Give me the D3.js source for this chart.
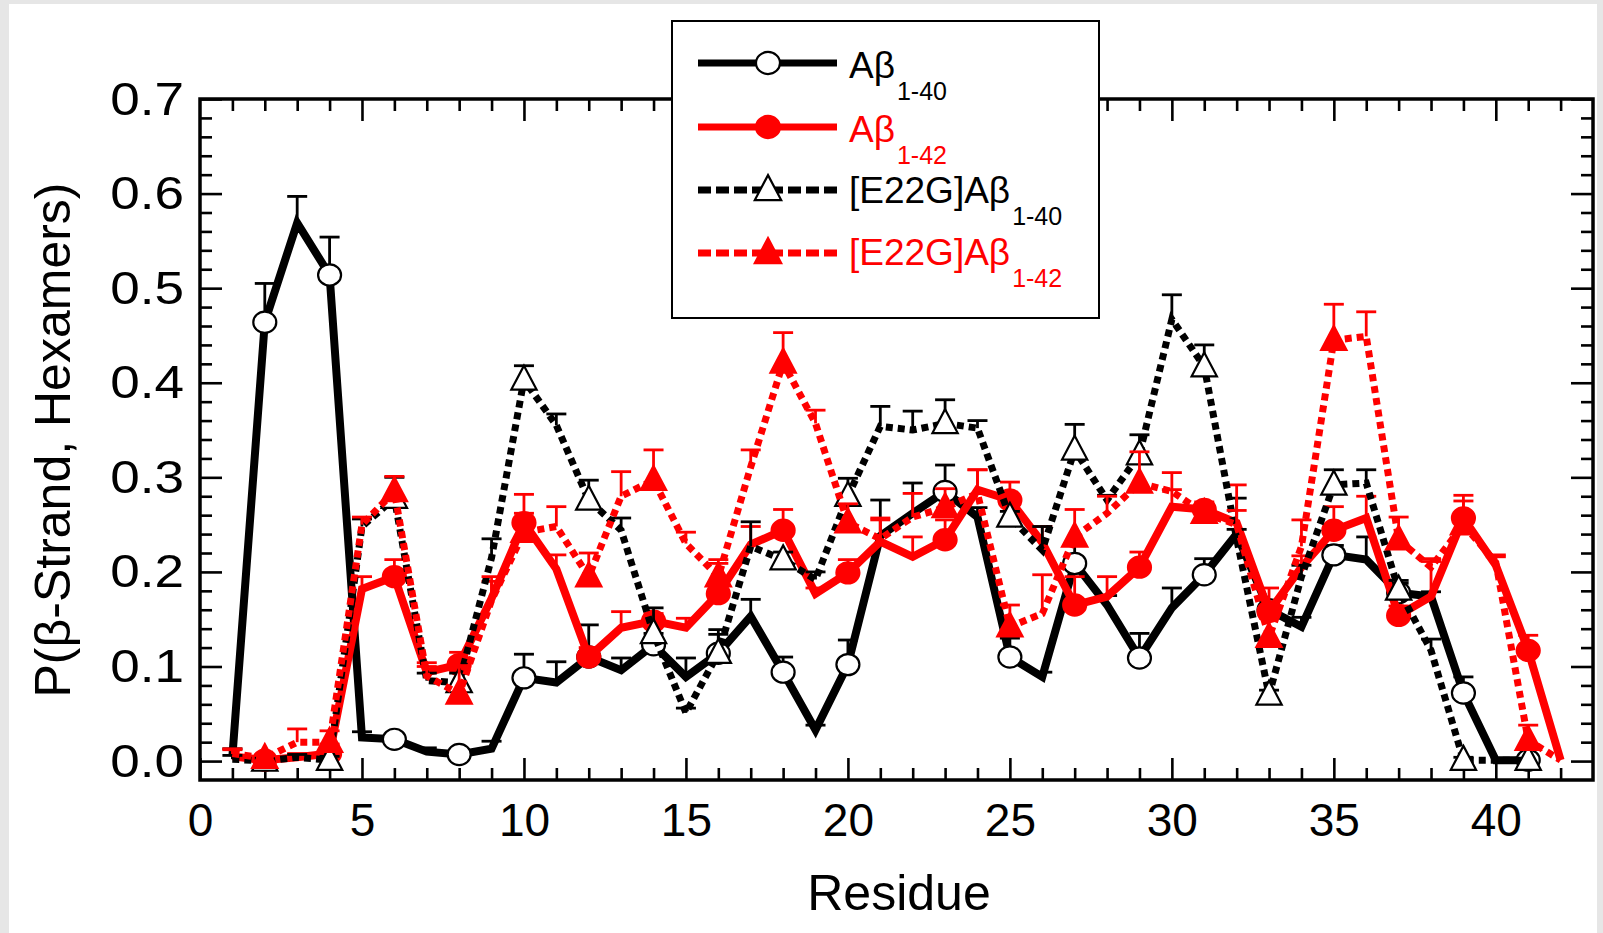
<!DOCTYPE html>
<html>
<head>
<meta charset="utf-8">
<script src="https://cdn.jsdelivr.net/npm/d3@7"></script>
<style>
  html, body { margin: 0; padding: 0; background: #e6e6e6; }
  svg { display: block; }
  text { font-family: "Liberation Sans", Arial, Helvetica, sans-serif; }
</style>
</head>
<body>
<svg id="chart" width="1603" height="933"></svg>
<script>
// Residue numbers along the peptide
const residues = [1,2,3,4,5,6,7,8,9,10,11,12,13,14,15,16,17,18,19,20,21,
                  22,23,24,25,26,27,28,29,30,31,32,33,34,35,36,37,38,39,40,41,42];

// Residues that carry a symbol on every curve
const markerResidues = [2,4,6,8,10,12,14,16,18,20,23,25,27,29,31,33,35,37,39,41];

// P(beta-strand) per residue, hexamers, and the upper error (SEM) of each point
const ab40 = [0.005,0.464,0.569,0.514,0.025,0.023,0.010,0.007,0.013,0.088,0.083,0.110,0.096,0.123,
              0.089,0.114,0.153,0.094,0.033,0.102,0.238,0.262,0.285,0.258,0.110,0.089,0.209,0.165,
              0.109,0.162,0.197,0.240,0.160,0.142,0.218,0.213,0.178,0.174,0.072,0.001,0.001];
const ab40Err = [0.008,0.041,0.028,0.040,0.006,0.005,0.004,0.004,0.008,0.025,0.022,0.034,0.013,0.012,
                 0.020,0.025,0.018,0.016,0.005,0.026,0.038,0.032,0.028,0.010,0.020,0.005,0.020,0.010,
                 0.026,0.021,0.017,0.038,0.010,0.010,0.010,0.024,0.010,0.005,0.017,0.000,0.000];

const ab42 = [0.005,0.001,0.004,0.008,0.182,0.195,0.094,0.102,0.172,0.252,0.203,0.110,0.141,0.148,
              0.141,0.177,0.229,0.244,0.177,0.199,0.232,0.216,0.234,0.287,0.276,0.231,0.165,0.174,
              0.205,0.269,0.266,0.252,0.158,0.205,0.244,0.257,0.154,0.174,0.257,0.207,0.117,0.001];
const ab42Err = [0.007,0.005,0.004,0.010,0.013,0.018,0.010,0.013,0.018,0.030,0.015,0.010,0.017,0.008,
                 0.010,0.032,0.019,0.022,0.006,0.014,0.025,0.021,0.021,0.021,0.019,0.017,0.030,0.021,
                 0.016,0.018,0.008,0.040,0.025,0.012,0.025,0.023,0.010,0.037,0.024,0.009,0.016,0.000];

const e22gAb40 = [0.002,0.000,0.004,0.001,0.248,0.278,0.085,0.083,0.215,0.403,0.355,0.276,0.244,0.135,
                  0.051,0.114,0.227,0.213,0.192,0.280,0.354,0.350,0.357,0.352,0.258,0.223,0.329,0.276,
                  0.324,0.467,0.417,0.235,0.070,0.195,0.292,0.294,0.181,0.117,0.001,0.001,0.001];
const e22gAb40Err = [0.004,0.003,0.003,0.004,0.008,0.022,0.008,0.010,0.020,0.015,0.012,0.021,0.013,0.027,
                     0.005,0.020,0.026,0.008,0.008,0.019,0.021,0.020,0.025,0.008,0.006,0.025,0.027,0.005,
                     0.021,0.026,0.023,0.010,0.005,0.012,0.016,0.014,0.010,0.012,0.003,0.000,0.000];

const e22gAb42 = [0.008,0.003,0.020,0.020,0.250,0.285,0.090,0.071,0.170,0.242,0.248,0.195,0.280,0.297,
                  0.230,0.195,0.311,0.421,0.357,0.252,0.235,0.258,0.268,0.283,0.142,0.156,0.237,0.262,
                  0.294,0.285,0.262,0.250,0.131,0.227,0.445,0.449,0.234,0.205,0.250,0.210,0.022,0.001];
const e22gAb42Err = [0.005,0.004,0.014,0.012,0.008,0.016,0.010,0.030,0.025,0.020,0.021,0.025,0.026,0.032,
                     0.012,0.018,0.018,0.032,0.014,0.020,0.020,0.025,0.020,0.025,0.023,0.041,0.029,0.018,
                     0.033,0.020,0.010,0.015,0.020,0.028,0.038,0.026,0.024,0.009,0.025,0.008,0.016,0.000];

const xMajorTicks = [0,5,10,15,20,25,30,35,40];
const yMajorTicks = [0.0,0.1,0.2,0.3,0.4,0.5,0.6,0.7];

const series = [
  { name: "Aβ", sub: "1-40", values: ab40, errors: ab40Err, color: "#000000", dashed: false, symbol: "circle", filled: false },
  { name: "Aβ", sub: "1-42", values: ab42, errors: ab42Err, color: "#ff0000", dashed: false, symbol: "circle", filled: true },
  { name: "[E22G]Aβ", sub: "1-40", values: e22gAb40, errors: e22gAb40Err, color: "#000000", dashed: true, symbol: "triangle", filled: false },
  { name: "[E22G]Aβ", sub: "1-42", values: e22gAb42, errors: e22gAb42Err, color: "#ff0000", dashed: true, symbol: "triangle", filled: true }
];

const svg = d3.select("#chart");
svg.append("rect").attr("x", 9).attr("y", 4).attr("width", 1588).attr("height", 929).attr("fill", "#ffffff");

const plot = { left: 200, right: 1593, top: 99, bottom: 780 };
const x = d3.scaleLinear().domain([0, 43]).range([plot.left, plot.right]);
const y = d3.scaleLinear().domain([-0.02, 0.7]).range([plot.bottom, plot.top]);

const xMinor = d3.range(1, 43).filter(v => v % 5 !== 0);
const yMinor = d3.range(1, 35).filter(v => v % 5 !== 0).map(v => v * 0.02);

const majorLen = 22, minorLen = 12;
const axesG = svg.append("g");

function styleAxis(g) {
  g.select(".domain").remove();
  g.selectAll(".tick line").attr("stroke", "#000").attr("stroke-width", 2.6);
}

// bottom
axesG.append("g").attr("transform", `translate(0,${plot.bottom})`)
  .call(d3.axisBottom(x).tickValues(xMajorTicks).tickSize(-majorLen).tickFormat(d3.format("d")))
  .call(styleAxis)
  .call(g => g.selectAll(".tick text").attr("font-size", 46).attr("fill", "#000").attr("y", 23));
axesG.append("g").attr("transform", `translate(0,${plot.bottom})`)
  .call(d3.axisBottom(x).tickValues(xMinor).tickSize(-minorLen).tickFormat(""))
  .call(styleAxis);
// top
axesG.append("g").attr("transform", `translate(0,${plot.top})`)
  .call(d3.axisTop(x).tickValues(xMajorTicks.filter(v => v > 0)).tickSize(-majorLen).tickFormat(""))
  .call(styleAxis);
axesG.append("g").attr("transform", `translate(0,${plot.top})`)
  .call(d3.axisTop(x).tickValues(xMinor).tickSize(-minorLen).tickFormat(""))
  .call(styleAxis);
// left, labels drawn slightly widened
axesG.append("g").attr("transform", `translate(${plot.left},0)`)
  .call(d3.axisLeft(y).tickValues(yMajorTicks).tickSize(-majorLen).tickFormat(d3.format(".1f")))
  .call(styleAxis)
  .call(g => g.selectAll(".tick text").attr("font-size", 47).attr("fill", "#000")
    .attr("x", 0).attr("transform", "translate(-16,0) scale(1.13,1)"));
axesG.append("g").attr("transform", `translate(${plot.left},0)`)
  .call(d3.axisLeft(y).tickValues(yMinor).tickSize(-minorLen).tickFormat(""))
  .call(styleAxis);
// right
axesG.append("g").attr("transform", `translate(${plot.right},0)`)
  .call(d3.axisRight(y).tickValues(yMajorTicks).tickSize(-majorLen).tickFormat(""))
  .call(styleAxis);
axesG.append("g").attr("transform", `translate(${plot.right},0)`)
  .call(d3.axisRight(y).tickValues(yMinor).tickSize(-minorLen).tickFormat(""))
  .call(styleAxis);

// frame
svg.append("rect")
  .attr("x", plot.left).attr("y", plot.top)
  .attr("width", plot.right - plot.left).attr("height", plot.bottom - plot.top)
  .attr("fill", "none").attr("stroke", "#000").attr("stroke-width", 3.5);

// axis titles
svg.append("text").attr("x", 899).attr("y", 910).attr("text-anchor", "middle")
  .attr("font-size", 50).attr("fill", "#000").text("Residue");
svg.append("text").attr("transform", "translate(70,440) rotate(-90)").attr("text-anchor", "middle")
  .attr("font-size", 50).attr("fill", "#000").text("P(β-Strand, Hexamers)");

const triPath = (s) => `M0,${-s * 0.62}L${s * 0.55},${s * 0.42}L${-s * 0.55},${s * 0.42}Z`;

function drawMarker(g, s, cx, cy, size) {
  if (s.symbol === "circle") {
    g.append("ellipse").attr("cx", cx).attr("cy", cy).attr("rx", size * 0.5).attr("ry", size * 0.46)
      .attr("fill", s.filled ? s.color : "#fff").attr("stroke", s.color).attr("stroke-width", 2.2);
  } else {
    g.append("path").attr("transform", `translate(${cx},${cy})`).attr("d", triPath(size))
      .attr("fill", s.filled ? s.color : "#fff").attr("stroke", s.color).attr("stroke-width", 2.2)
      .attr("stroke-linejoin", "miter");
  }
}

const line = d3.line().x(d => x(d.r)).y(d => y(d.v));

series.forEach(s => {
  const pts = s.values.map((v, i) => ({ r: residues[i], v: v, e: s.errors[i] }));
  const g = svg.append("g");

  // upper error bars with caps
  const eb = g.append("g").attr("stroke", s.color).attr("stroke-width", 2.8);
  pts.filter(d => d.e > 0).forEach(d => {
    eb.append("line").attr("x1", x(d.r)).attr("x2", x(d.r)).attr("y1", y(d.v)).attr("y2", y(d.v + d.e));
    eb.append("line").attr("x1", x(d.r) - 10).attr("x2", x(d.r) + 10).attr("y1", y(d.v + d.e)).attr("y2", y(d.v + d.e));
  });

  g.append("path").datum(pts).attr("d", line)
    .attr("fill", "none").attr("stroke", s.color).attr("stroke-width", s.dashed ? 7 : 8)
    .attr("stroke-linejoin", "miter")
    .attr("stroke-dasharray", s.dashed ? "7,5" : null);

  pts.filter(d => markerResidues.includes(d.r)).forEach(d => drawMarker(g, s, x(d.r), y(d.v), 23));
});

// legend
const lg = svg.append("g");
lg.append("rect").attr("x", 672).attr("y", 21).attr("width", 427).attr("height", 297)
  .attr("fill", "#fff").attr("stroke", "#000").attr("stroke-width", 2);
const rowY = [63, 127, 190, 253];
const textBase = [78, 142, 203, 265];
series.forEach((s, i) => {
  lg.append("line").attr("x1", 698).attr("x2", 837).attr("y1", rowY[i]).attr("y2", rowY[i])
    .attr("stroke", s.color).attr("stroke-width", 7)
    .attr("stroke-dasharray", s.dashed ? "13,5" : null);
  drawMarker(lg, s, 768, rowY[i], 24);
  const t = lg.append("text").attr("x", 849).attr("y", textBase[i]).attr("font-size", 37).attr("fill", s.color);
  t.append("tspan").text(s.name);
  t.append("tspan").attr("font-size", 25).attr("dx", 2).attr("dy", 22).text(s.sub);
});
</script>
</body>
</html>
